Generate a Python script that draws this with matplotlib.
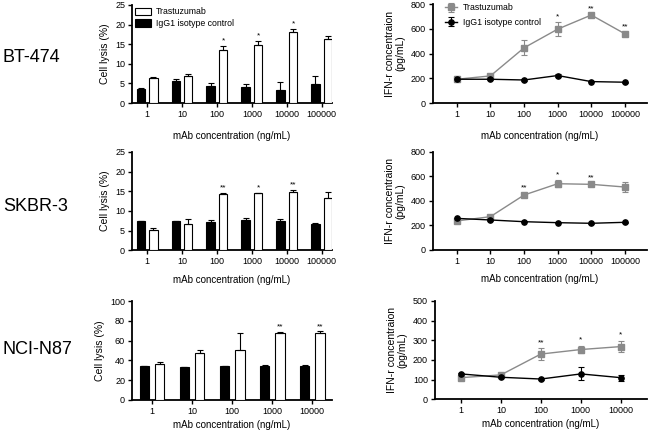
import numpy as np
import matplotlib.pyplot as plt

plt.rcParams['font.family'] = ['Liberation Sans', 'DejaVu Sans']

# categories
conc6 = ['1', '10', '100', '1000', '10000', '100000']
conc5 = ['1', '10', '100', '1000', '10000']
cells = ['BT-474', 'SKBR-3', 'NCI-N87']

# cell lysis (%)  -- trastuzumab / IgG1 control, mean and error
lysis_tra = [[6.5, 6.9, 13.5, 14.9, 18.1, 16.4],
             [5.15, 6.75, 14.4, 14.6, 14.75, 13.3],
             [36.3, 47.0, 50.0, 67.5, 67.5]]
lysis_tra_err = [[0.25, 0.5, 1.1, 1.0, 0.9, 0.6],
                 [0.6, 1.2, 0.25, 0.05, 0.7, 1.4],
                 [2.0, 4.0, 18.0, 1.5, 1.8]]
lysis_igg = [[3.6, 5.7, 4.4, 4.0, 3.35, 4.9],
             [7.35, 7.4, 7.1, 7.6, 7.35, 6.6],
             [34.2, 33.2, 34.0, 34.6, 34.6]]
lysis_igg_err = [[0.35, 0.35, 0.6, 0.75, 2.0, 1.9],
                 [0.05, 0.1, 0.5, 0.7, 0.6, 0.4],
                 [0.3, 0.6, 0.3, 1.0, 0.6]]
lysis_stars = [['', '', '*', '*', '*', ''],
               ['', '', '**', '*', '**', ''],
               ['', '', '', '**', '**']]
lysis_ymax = [25, 25, 100]
lysis_step = [5, 5, 20]

# IFN-r concentration (pg/mL)
ifn_tra = [[192, 219, 446, 597, 711, 559],
           [236, 271, 447, 539, 534, 512],
           [110, 124, 230, 253, 268]]
ifn_tra_err = [[23, 10, 60, 55, 8, 8],
               [15, 10, 10, 30, 10, 43],
               [10, 8, 30, 20, 30]]
ifn_igg = [[192, 192, 186, 222, 173, 168],
           [257, 244, 230, 222, 217, 225],
           [129, 112, 103, 129, 110]]
ifn_igg_err = [[5, 5, 5, 10, 5, 5],
               [5, 5, 5, 5, 5, 5],
               [5, 5, 5, 33, 15]]
ifn_stars = [['', '', '', '*', '**', '**'],
             ['', '', '**', '*', '**', ''],
             ['', '', '**', '*', '*']]
ifn_ymax = [800, 800, 500]
ifn_step = [200, 200, 100]

fig = plt.figure(figsize=(6.52, 4.37), dpi=100)

bar_pos = [[0.2025, 0.7643, 0.307, 0.2243],
           [0.2025, 0.4272, 0.307, 0.2250],
           [0.2025, 0.0847, 0.307, 0.2265]]
line_pos = [[0.664, 0.7643, 0.328, 0.2265],
            [0.664, 0.4280, 0.328, 0.2250],
            [0.667, 0.0863, 0.325, 0.2250]]
row_y = [57, 207, 350]
xlab_pad = [9, 6, 3]

def style_axes(ax):
    ax.spines['top'].set_visible(False)
    ax.spines['right'].set_visible(False)
    ax.spines['left'].set_linewidth(1.3)
    ax.spines['bottom'].set_linewidth(1.3)
    ax.tick_params(axis='both', labelsize=6.5, length=3, width=1.0, pad=2)

for i in range(3):
    labels = conc6 if i < 2 else conc5
    x = np.arange(len(labels))

    # ---- bar chart (cell lysis)
    ax = fig.add_axes(bar_pos[i])
    w = 0.24
    off = 0.18 if i < 2 else 0.19
    ax.bar(x - off, lysis_igg[i], w, color='black', edgecolor='black', lw=0.8,
           yerr=[np.zeros(len(x)), lysis_igg_err[i]], capsize=2,
           error_kw=dict(elinewidth=0.8, capthick=0.8), label='IgG1 isotype control', zorder=3)
    ax.bar(x + off, lysis_tra[i], w, color='white', edgecolor='black', lw=0.8,
           yerr=[np.zeros(len(x)), lysis_tra_err[i]], capsize=2,
           error_kw=dict(elinewidth=0.8, capthick=0.8), label='Trastuzumab', zorder=3)
    for j, s in enumerate(lysis_stars[i]):
        if s:
            ax.annotate(s, (x[j] + off, lysis_tra[i][j] + lysis_tra_err[i][j]),
                        xytext=(0, 1), textcoords='offset points',
                        ha='center', va='bottom', fontsize=6)
    ax.set_ylim(0, lysis_ymax[i])
    ax.set_yticks(np.arange(0, lysis_ymax[i] + 1, lysis_step[i]))
    if i < 2:
        ax.set_xlim(-0.43, 5.3)
    else:
        ax.set_xlim(-0.5, 4.5)
    ax.set_xticks(x)
    ax.set_xticklabels(labels)
    ax.set_ylabel('Cell lysis (%)', fontsize=7.5, labelpad=4)
    ax.set_xlabel('mAb concentration (ng/mL)', fontsize=7, labelpad=xlab_pad[i])
    style_axes(ax)
    if i == 0:
        h, l = ax.get_legend_handles_labels()
        ax.legend(h[::-1], l[::-1], loc='upper left', bbox_to_anchor=(-0.01, 1.03),
                  frameon=False, fontsize=6.3, handlelength=1.8, handleheight=0.9,
                  handletextpad=0.6, labelspacing=0.3, borderaxespad=0.2)

    # ---- line chart (IFN-r)
    ax = fig.add_axes(line_pos[i])
    ax.errorbar(x, ifn_tra[i], yerr=ifn_tra_err[i], color='#8a8a8a', marker='s',
                ms=3.8, lw=1.0, capsize=2, elinewidth=0.8, capthick=0.8,
                label='Trastuzumab', zorder=3)
    ax.errorbar(x, ifn_igg[i], yerr=ifn_igg_err[i], color='black', marker='o',
                ms=3.8, lw=1.0, capsize=2, elinewidth=0.8, capthick=0.8,
                label='IgG1 isotype control', zorder=3)
    for j, s in enumerate(ifn_stars[i]):
        if s:
            ax.annotate(s, (x[j], ifn_tra[i][j] + ifn_tra_err[i][j]),
                        xytext=(0, 1.5), textcoords='offset points',
                        ha='center', va='bottom', fontsize=6)
    ax.set_ylim(0, ifn_ymax[i])
    ax.set_yticks(np.arange(0, ifn_ymax[i] + 1, ifn_step[i]))
    if i < 2:
        ax.set_xlim(-0.71, 5.65)
    else:
        ax.set_xlim(-0.65, 4.65)
    ax.set_xticks(x)
    ax.set_xticklabels(labels)
    ax.set_ylabel('IFN-r concentraion\n(pg/mL)', fontsize=7.5, labelpad=4, linespacing=1.1)
    ax.set_xlabel('mAb concentration (ng/mL)', fontsize=7, labelpad=xlab_pad[i])
    style_axes(ax)
    if i == 0:
        ax.legend(loc='upper left', bbox_to_anchor=(0.03, 1.06), frameon=False,
                  fontsize=6.3, handlelength=1.4, handletextpad=0.7,
                  labelspacing=0.6, borderaxespad=0.2)

    # row label
    fig.text(3 / 652, 1 - row_y[i] / 437, cells[i], fontsize=13, ha='left', va='center')

fig.savefig('out.png', dpi=100)
